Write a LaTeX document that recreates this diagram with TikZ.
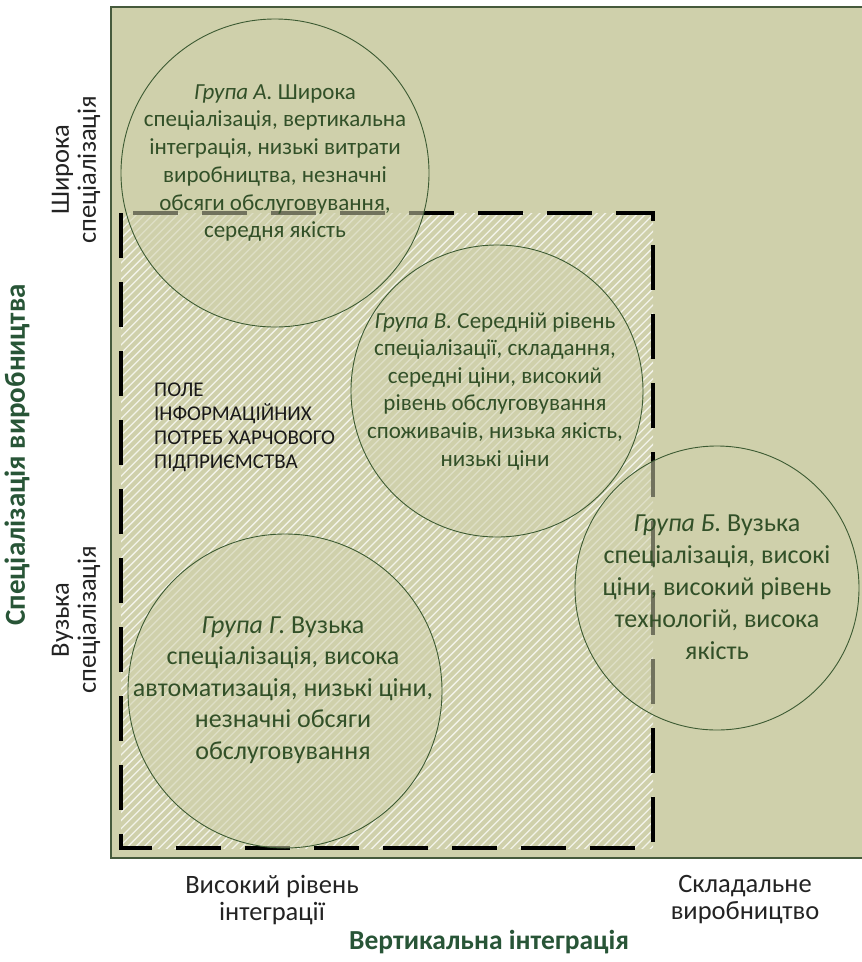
\documentclass[tikz,border=0pt]{standalone}
\usepackage{fontspec}
\setmainfont{Carlito}
\definecolor{bgfill}{RGB}{207,208,171}
\definecolor{frameline}{RGB}{70,90,60}
\definecolor{circline}{RGB}{60,90,50}
\definecolor{grouptext}{RGB}{50,80,40}
\definecolor{axistitle}{RGB}{40,85,55}
\definecolor{axistext}{RGB}{35,35,35}
\begin{document}
\begin{tikzpicture}[x=1pt,y=-1pt,
  groupcirc/.style={circle, draw=circline, line width=0.9pt, fill=bgfill,
    fill opacity=0.55, minimum size=#1, inner sep=0pt},
  grouptxt/.style={text=grouptext, align=center, inner sep=0pt},
  axislbl/.style={text=axistext, align=center, inner sep=0pt,
    font=\fontsize{26.5}{27}\selectfont},
  axisttl/.style={text=axistitle, inner sep=0pt,
    font=\bfseries\fontsize{27.5}{30}\selectfont},
  hatchline/.style={white, line width=1.3pt, opacity=0.75},
  fieldborder/.style={black, line width=4pt, dash pattern=on 45pt off 24pt}
]
\useasboundingbox (0,0) rectangle (862,962);

% background panel
\coordinate (panelNW) at (111,7);
\coordinate (panelSE) at (868,858);
\fill[bgfill] (panelNW) rectangle (panelSE);
\draw[frameline, line width=1.2pt] (panelNW) rectangle (panelSE);

% hatched field of information needs
\coordinate (fieldNW) at (121,213);
\coordinate (fieldSE) at (653,848);
\begin{scope}
  \clip (fieldNW) rectangle (fieldSE);
  \foreach \k in {0,...,165}
    \draw[hatchline] ({-640+8.2*\k},860) -- ++(760,-760);
\end{scope}
\draw[fieldborder] (fieldNW) |- (fieldSE) |- (fieldNW) -- cycle;

% groups
\node[groupcirc=308pt] (circA) at (275,173) {};
\node[groupcirc=292pt] (circV) at (497,391) {};
\node[groupcirc=284pt] (circB) at (717,588) {};
\node[groupcirc=314pt] (circG) at (285,691) {};

\node[grouptxt, font=\fontsize{23}{27.7}\selectfont] (txtA) at (275,163)
  {\textit{Група А.} Широка\\спеціалізація, вертикальна\\інтеграція, низькі витрати\\виробництва, незначні\\обсяги обслуговування,\\середня якість};
\node[grouptxt, font=\fontsize{23}{27.6}\selectfont] (txtV) at (495,391)
  {\textit{Група В.} Середній рівень\\спеціалізації, складання,\\середні ціни, високий\\рівень обслуговування\\споживачів, низька якість,\\низькі ціни};
\node[grouptxt, font=\fontsize{26}{32}\selectfont] (txtB) at (717,587)
  {\textit{Група Б.} Вузька\\спеціалізація, високі\\ціни, високий рівень\\технологій, висока\\якість};
\node[grouptxt, font=\fontsize{26}{31.5}\selectfont] (txtG) at (283,690)
  {\textit{Група Г.} Вузька\\спеціалізація, висока\\автоматизація, низькі ціни,\\незначні обсяги\\обслуговування};

\node[anchor=west, align=left, inner sep=0pt, text=black!90,
  font=\fontsize{21}{24}\selectfont] (field) at (154,427)
  {ПОЛЕ\\ІНФОРМАЦІЙНИХ\\ПОТРЕБ ХАРЧОВОГО\\ПІДПРИЄМСТВА};

% axes captions
\node[axislbl] (xlow) at (272,900) {Високий рівень\\інтеграції};
\node[axislbl] (xhigh) at (745,900) {Складальне\\виробництво};
\node[axisttl] (xttl) at (489,942) {Вертикальна інтеграція};

\node[axislbl, rotate=90] (ywide) at (76,170) {Широка\\спеціалізація};
\node[axislbl, rotate=90] (ynarrow) at (76,620) {Вузька\\спеціалізація};
\node[axisttl, rotate=90, font=\bfseries\fontsize{29}{30}\selectfont] (yttl) at (17,455) {Спеціалізація виробництва};
\end{tikzpicture}
\end{document}
